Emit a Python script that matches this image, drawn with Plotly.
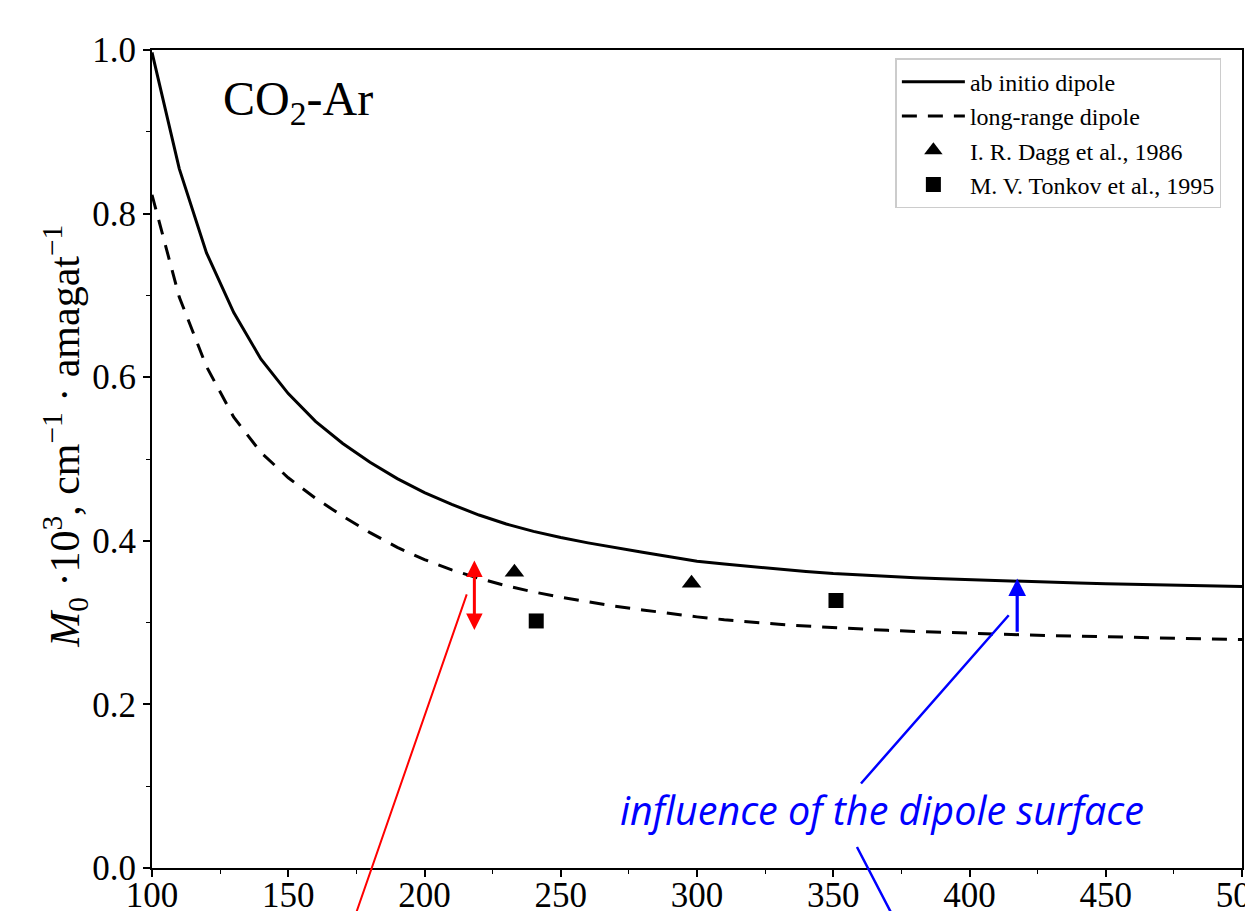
import plotly.graph_objects as go

# ---- data ----
temp = [100, 110, 120, 130, 140, 150, 160, 170, 180, 190, 200, 210, 220, 230, 240, 250,
        260, 270, 280, 290, 300, 310, 320, 330, 340, 350, 360, 370, 380, 390, 400,
        410, 420, 430, 440, 450, 460, 470, 480, 490, 500]
ab_initio = [0.997, 0.855, 0.752, 0.679, 0.622, 0.580, 0.546, 0.519, 0.496, 0.476, 0.459,
             0.4445, 0.4315, 0.4205, 0.4115, 0.4040, 0.3975, 0.3915, 0.3860, 0.3805, 0.3750,
             0.3715, 0.3683, 0.3653, 0.3625, 0.3600, 0.3580, 0.3563, 0.3548, 0.3535, 0.3523,
             0.3512, 0.3502, 0.3493, 0.3484, 0.3476, 0.3468, 0.3461, 0.3454, 0.3447, 0.3440]
long_range = [0.823, 0.698, 0.613, 0.551, 0.508, 0.477, 0.452, 0.430, 0.410, 0.392, 0.377,
              0.3645, 0.354, 0.345, 0.3375, 0.331, 0.3255, 0.320, 0.3155, 0.311, 0.307,
              0.3035, 0.3005, 0.298, 0.2958, 0.2938, 0.292, 0.2905, 0.2892, 0.288, 0.2869,
              0.2859, 0.285, 0.2841, 0.2833, 0.2825, 0.2818, 0.2811, 0.2804, 0.2798, 0.2792]
dagg_T = [233, 298]
dagg_M = [0.3615, 0.348]
tonkov_T = [241, 351]
tonkov_M = [0.302, 0.327]

x_ticks = [100, 150, 200, 250, 300, 350, 400, 450, 500]
y_ticks = [0.0, 0.2, 0.4, 0.6, 0.8, 1.0]

SERIF = "Liberation Serif, Times New Roman, serif"

fig = go.Figure()
fig.add_trace(go.Scatter(x=temp, y=ab_initio, mode="lines", name="ab initio dipole",
                         line=dict(color="black", width=3)))
fig.add_trace(go.Scatter(x=temp, y=long_range, mode="lines", name="long-range dipole",
                         line=dict(color="black", width=3, dash="15px,11px")))
fig.add_trace(go.Scatter(x=dagg_T, y=dagg_M, mode="markers", name="I. R. Dagg et al., 1986",
                         marker=dict(symbol="triangle-up", size=17, color="black")))
fig.add_trace(go.Scatter(x=tonkov_T, y=tonkov_M, mode="markers", name="M. V. Tonkov et al., 1995",
                         marker=dict(symbol="square", size=15, color="black")))

annotations = [
    # CO2-Ar label
    dict(x=125.5, y=0.936, xref="x", yref="y", text="CO<sub>2</sub>-Ar", showarrow=False,
         xanchor="left", yanchor="middle", font=dict(family=SERIF, size=48, color="black")),
    # y-axis title
    dict(x=-0.0805, y=0.5275, xref="paper", yref="paper", textangle=-90, showarrow=False,
         xanchor="center", yanchor="middle",
         text="<i>M</i><sub>0</sub> ·10<sup>3</sup>, cm<sup>−1</sup> · amagat<sup>−1</sup>",
         font=dict(family=SERIF, size=42, color="black")),
    # red double arrow
    dict(x=218.3, y=0.376, ax=218.3, ay=0.289, xref="x", yref="y", axref="x", ayref="y",
         text="", showarrow=True, arrowside="end+start", arrowhead=2, arrowsize=1.1,
         arrowwidth=3, arrowcolor="red", standoff=0, startstandoff=0),
    # red pointer line
    dict(x=215.5, y=0.3346, ax=172.3, ay=-0.08, xref="x", yref="y", axref="x", ayref="y",
         text="", showarrow=True, arrowhead=0, arrowwidth=2, arrowcolor="red"),
    # blue arrow
    dict(x=417.5, y=0.354, ax=417.5, ay=0.287, xref="x", yref="y", axref="x", ayref="y",
         text="", showarrow=True, arrowhead=2, arrowsize=1.1, arrowwidth=3.2,
         arrowcolor="blue", standoff=0),
    # blue pointer lines
    dict(x=414.4, y=0.309, ax=359.7, ay=0.1015, xref="x", yref="y", axref="x", ayref="y",
         text="", showarrow=True, arrowhead=0, arrowwidth=2.5, arrowcolor="blue"),
    dict(x=358.7, y=0.0257, ax=375.5, ay=-0.082, xref="x", yref="y", axref="x", ayref="y",
         text="", showarrow=True, arrowhead=0, arrowwidth=2.5, arrowcolor="blue"),
    # blue text
    dict(x=368.0, y=0.071, xref="x", yref="y", text="<i>influence of the dipole surface</i>",
         showarrow=False, xanchor="center", yanchor="middle",
         font=dict(family="Open Sans", size=39.5, color="blue")),
]

# page body has an 8px margin, so the figure is offset by 8px
fig.update_layout(
    width=1245, height=903,
    margin=dict(l=144, r=11, t=42, b=43),
    paper_bgcolor="white", plot_bgcolor="white",
    showlegend=True,
    legend=dict(x=0.682, y=0.990, xanchor="left", yanchor="top",
                bgcolor="white", bordercolor="#cccccc", borderwidth=1.5,
                font=dict(family=SERIF, size=24, color="black"),
                itemwidth=63),
    annotations=annotations,
)
fig.update_xaxes(range=[100, 500], tickvals=x_ticks, ticktext=[str(v) for v in x_ticks],
                 showgrid=False, zeroline=False, showline=True, linecolor="black", linewidth=2,
                 mirror=True, ticks="outside", ticklen=7, tickwidth=1.5, tickcolor="black",
                 tickfont=dict(family=SERIF, size=35, color="black"), automargin=False,
                 ticklabelstandoff=-12, ticklabeloverflow="allow",
                 minor=dict(ticks="outside", dtick=25, ticklen=4, tickwidth=1.2, tickcolor="black"))
fig.update_yaxes(range=[0, 1.0], tickvals=y_ticks, ticktext=[f"{v:.1f}" for v in y_ticks],
                 showgrid=False, zeroline=False, showline=True, linecolor="black", linewidth=2,
                 mirror=True, ticks="outside", ticklen=7, tickwidth=1.5, tickcolor="black",
                 tickfont=dict(family=SERIF, size=35, color="black"), automargin=False,
                 ticklabeloverflow="allow",
                 minor=dict(ticks="outside", dtick=0.1, ticklen=4, tickwidth=1.2, tickcolor="black"))

fig.write_html("out.html")
